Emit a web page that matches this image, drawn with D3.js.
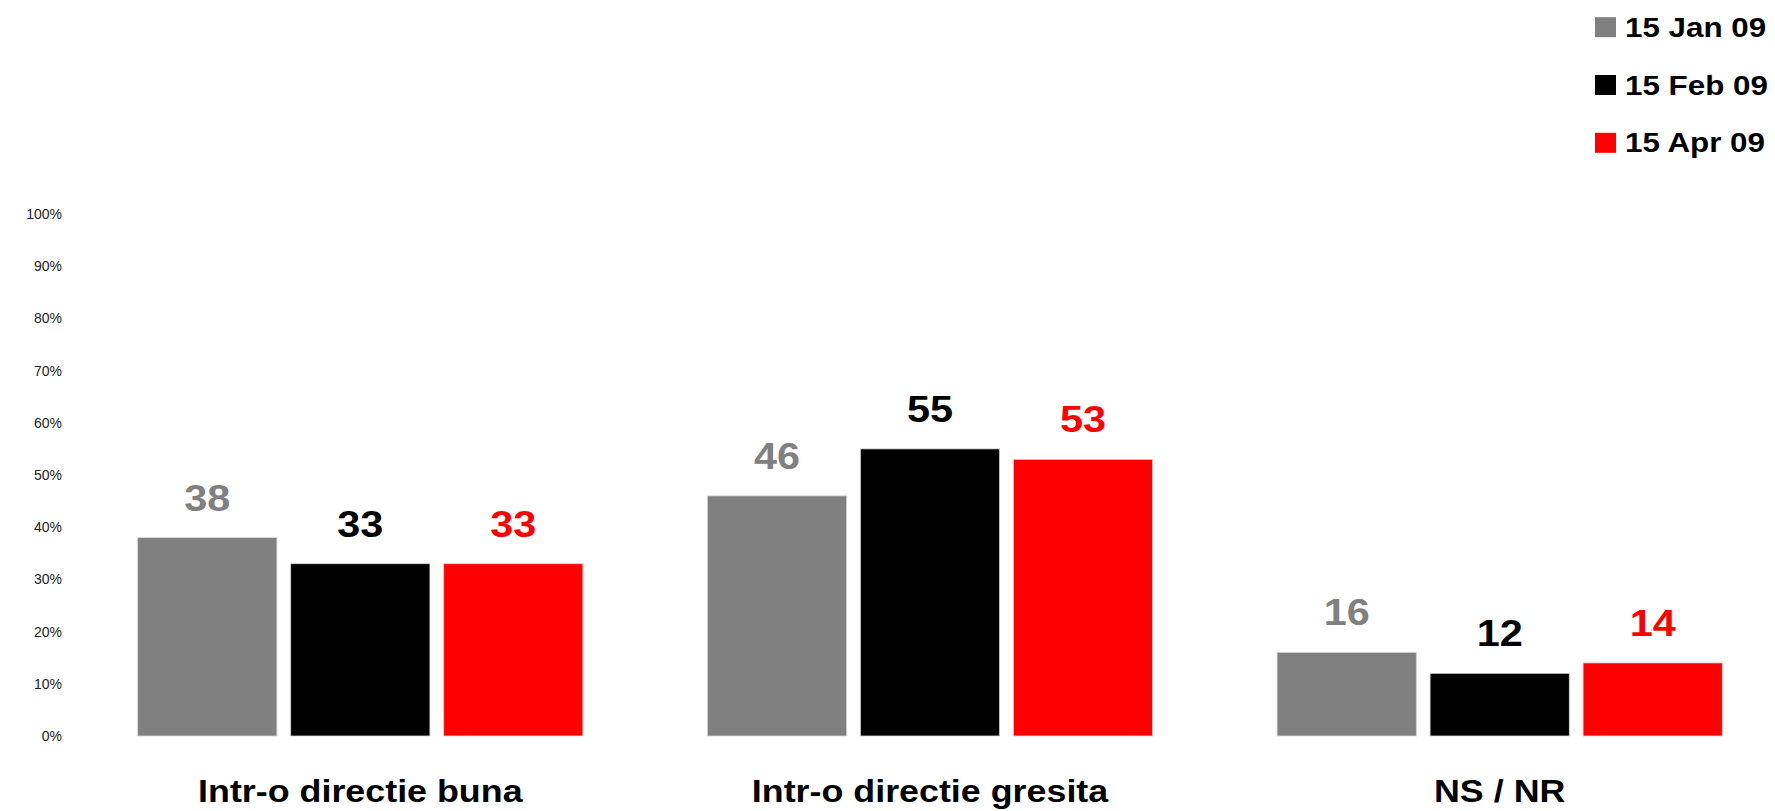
<!DOCTYPE html>
<html>
<head>
<meta charset="utf-8">
<script src="https://cdn.jsdelivr.net/npm/d3@7"></script>
<style>
  body { margin: 0; background: #fff; }
  svg { display: block; }
</style>
</head>
<body>
<div id="chart"></div>
<script>
// data
const categories = ["Intr-o directie buna", "Intr-o directie gresita", "NS / NR"];
const seriesNames = ["15 Jan 09", "15 Feb 09", "15 Apr 09"];
const seriesColors = ["#808080", "#000000", "#ff0000"];
const jan09 = [38, 46, 16];
const feb09 = [33, 55, 12];
const apr09 = [33, 53, 14];
const yTicks = [0, 10, 20, 30, 40, 50, 60, 70, 80, 90, 100];

const seriesValues = [jan09, feb09, apr09];

const width = 1775,
  height = 811;

const stretch = 1.12; // text in the picture is a bit wider than normal Arial

const svg = d3.select("#chart")
  .append("svg")
  .attr("width", width)
  .attr("height", height)
  .style("font-family", "Arial, 'Liberation Sans', sans-serif");

const x0 = d3.scaleBand()
  .domain(categories)
  .range([137.7, 1722.3])
  .paddingInner(0.2185)
  .paddingOuter(0);

const x1 = d3.scaleBand()
  .domain(seriesNames)
  .range([0, x0.bandwidth()])
  .paddingInner(0.09)
  .paddingOuter(0);

const y = d3.scaleLinear()
  .domain([0, 100])
  .range([736, 214]);

// y axis: only labels, no line or ticks
const yAxis = svg.append("g")
  .attr("transform", "translate(62,0)")
  .call(d3.axisLeft(y).tickValues(yTicks).tickSize(0).tickPadding(0).tickFormat(d => d + "%"));

yAxis.select(".domain").remove();
yAxis.selectAll("text")
  .attr("fill", "#222")
  .style("font-size", "14px")
  .style("font-family", "Arial, 'Liberation Sans', sans-serif");

// bars
const groups = svg.append("g")
  .selectAll("g")
  .data(categories)
  .join("g")
  .attr("transform", d => `translate(${x0(d)},0)`);

groups.selectAll("rect")
  .data((c, ci) => seriesNames.map((s, si) => ({ s, si, v: seriesValues[si][ci] })))
  .join("rect")
  .attr("x", d => x1(d.s))
  .attr("width", x1.bandwidth())
  .attr("y", d => y(d.v))
  .attr("height", d => y(0) - y(d.v))
  .attr("fill", d => seriesColors[d.si])
  .attr("stroke", "#d4d4d4")
  .attr("stroke-width", 0.8);

// value labels
groups.selectAll("text.val")
  .data((c, ci) => seriesNames.map((s, si) => ({ s, si, v: seriesValues[si][ci] })))
  .join("text")
  .attr("class", "val")
  .attr("transform", d => `translate(${x1(d.s) + x1.bandwidth() / 2},${y(d.v) - 27}) scale(${stretch},1)`)
  .attr("text-anchor", "middle")
  .attr("fill", d => seriesColors[d.si])
  .style("font-size", "37px")
  .style("font-weight", "bold")
  .text(d => d.v);

// category labels
svg.append("g")
  .selectAll("text")
  .data(categories)
  .join("text")
  .attr("transform", d => `translate(${x0(d) + x0.bandwidth() / 2},801.5) scale(${stretch},1)`)
  .attr("text-anchor", "middle")
  .attr("fill", "#000")
  .style("font-size", "32px")
  .style("font-weight", "bold")
  .text(d => d);

// legend, top right
const legend = svg.append("g")
  .selectAll("g")
  .data(seriesNames)
  .join("g")
  .attr("transform", (d, i) => `translate(1595,${36.7 + i * 57.8})`);

legend.append("rect")
  .attr("x", 0)
  .attr("y", -19.5)
  .attr("width", 21)
  .attr("height", 20)
  .attr("fill", (d, i) => seriesColors[i]);

legend.append("text")
  .attr("transform", `translate(30,0) scale(${stretch},1)`)
  .attr("fill", "#000")
  .style("font-size", "28px")
  .style("font-weight", "bold")
  .text(d => d);
</script>
</body>
</html>
